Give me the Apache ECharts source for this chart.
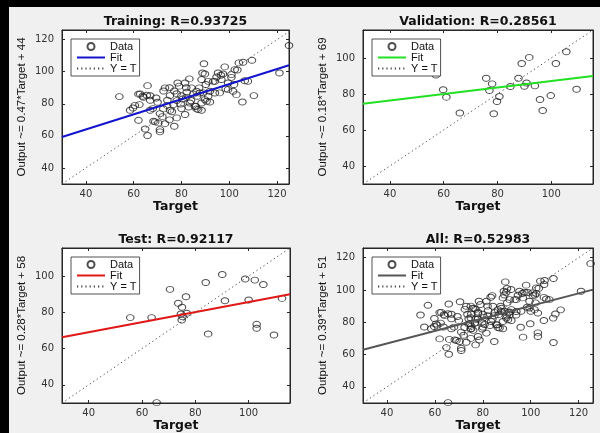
<!DOCTYPE html>
<html>
<head>
<meta charset="utf-8">
<script src="https://cdn.jsdelivr.net/npm/echarts@6/dist/echarts.min.js"></script>
<style>
html,body{margin:0;padding:0;background:#f0f0f0;}
#c{width:600px;height:433px;}
</style>
</head>
<body>
<div id="c"></div>
<script>
// ---------------- data ----------------
const trainingData = [
  [54,84.5],[58.5,76],[60.5,79],[62,86],[63.8,84.7],[65.8,91.3],[66.9,85],[66.9,82.2],[62,69.7],[64.8,64.3],
  [65.8,60.2],[66.9,76],[69.4,83.6],[71,73.9],[68.3,69.1],[69,68.7],[70.3,68.1],[71,63.9],[73.1,89.9],[72.4,76.8],
  [74.1,82.2],[73.1,67.6],[75.2,85.1],[75.2,76],[76.6,79.5],[78,86.3],[78,71.2],[79.7,79.9],[78.4,93],[80.5,83],
  [81.5,93],[81.5,73.3],[82.2,87.2],[83.3,95.5],[83.5,80.5],[84.2,89.9],[86,78.4],[86.3,76.8],[87.4,89.9],[86.6,84.7],
  [88.4,76],[88.8,99.2],[89.4,105],[89.1,86.8],[90.5,81.6],[91.2,94],[90.2,92],[91.9,87.8],[94,94],[94.7,96.7],
  [95.3,99.2],[96.7,95.1],[98.1,103],[96,86.8],[98.5,89.3],[100.9,98.2],[102.3,101.3],[101.6,87.8],[103,85.7],[104,105.5],
  [105.8,105.9],[105.5,81.1],[107.8,94],[109.5,107.1],[110.3,85.1],[121,99.2],[125,116.3],
  [97.4,98.6],[103.4,101.1],[96.5,97.8],[89.8,98.6],[88.4,95.1],[93.3,94],[100.9,96.5],[106.5,94.4],[99.5,93],
  [102,92],[86.3,87.8],[87.7,86.7],[94,86.7],[91.2,84.7],[89.8,82.6],[91.9,81.1],[88.4,80.5],[99.5,88.8],[85.6,78.5],
  [87,76.4],[62.7,86.1],[64.1,84.1],[65.5,85.3],[59.7,77.4],[62.4,79.5],[72.5,88],[75,90],[77,88],[79,91],
  [80,85],[82,84],[78,82],[74,79],[76,75],[72,72],[75,70],[80,77],[83,78],[84,82],
  [85,86],[82,90],[70,81],[68,77],[77,66],[71,62.5]
];
const validationData = [
  [57.1,90.5],[59.8,82.3],[61,78.2],[66,69.4],[75.8,88.7],[78,85.6],[77,81.9],[78.6,69],[80.7,78.6],[79.8,75.8],
  [84.8,84.1],[87.8,88.7],[89,96.9],[91.8,100.3],[90,84.3],[90.8,86.1],[93.9,84.5],[95.8,76.9],[96.8,70.8],[99.8,79.1],
  [101.7,96.9],[105.6,103.4],[109.4,82.6]
];
const testData = [
  [55.6,77.1],[63.6,77.1],[70.5,92.7],[73.6,85],[75,82.8],[76.5,88.6],[74.6,79.1],[75.2,77.6],[74.9,75.8],[76.8,79.5],
  [83.9,96.5],[84.8,68.1],[90.1,100.9],[91.1,86.4],[98.7,98.4],[100,86.8],[102.3,97.8],[105.5,95.4],[103,73.4],[103,71.2],
  [109.5,67.5],[112.5,87.7],[65.5,30.2]
];
const allData = trainingData.concat(validationData, testData);

// fitted lines (end points)
const trainingFit = [[30,59.3],[125,104]];
const validationFit = [[30,74.5],[115.5,90]];
const testFit = [[30,66.3],[115.5,90]];
const allFit = [[30,63],[126,100.2]];

// Y = T reference lines
const trainingIdentity = [[30,30],[126,126]];
const validationIdentity = [[30,30],[115.5,115.5]];
const testIdentity = [[30,30],[115.5,115.5]];
const allIdentity = [[30,30],[126,126]];

// axis limits [xmin, xmax, ymin, ymax]
const trainingLimits = [30,125,30,126];
const validationLimits = [30,115.5,30,115.5];
const testLimits = [30,115.5,30,115.5];
const allLimits = [30,126,30,126];

const panelTitles = ['Training: R=0.93725','Validation: R=0.28561','Test: R=0.92117','All: R=0.52983'];
const yAxisNames = ['Output ~= 0.47*Target + 44','Output ~= 0.18*Target + 69','Output ~= 0.28*Target + 58','Output ~= 0.39*Target + 51'];
const xAxisName = 'Target';
const legendNames = ['Data','Fit','Y = T'];

// ---------------- layout / style ----------------
const panels = [
  {data: trainingData, fit: trainingFit, ident: trainingIdentity, lim: trainingLimits, color: '#1414cc'},
  {data: validationData, fit: validationFit, ident: validationIdentity, lim: validationLimits, color: '#22e022'},
  {data: testData, fit: testFit, ident: testIdentity, lim: testLimits, color: '#e01818'},
  {data: allData, fit: allFit, ident: allIdentity, lim: allLimits, color: '#555555'}
];
const grids = [
  {left: 62, top: 30, width: 227, height: 154},
  {left: 363, top: 30, width: 230, height: 154},
  {left: 62, top: 248, width: 228, height: 155},
  {left: 363, top: 248, width: 230, height: 155}
];
const AX = '#262626';
const tickFont = {fontFamily: 'DejaVu Sans', fontSize: 10, color: '#333'};

const xAxes = [], yAxes = [], series = [], titles = [], legends = [];
panels.forEach((p, i) => {
  const g = grids[i];
  ['bottom','top'].forEach(pos => {
    xAxes.push({
      type: 'value', gridIndex: i, position: pos, min: p.lim[0], max: p.lim[1],
      splitLine: {show: false},
      axisLine: {show: true, onZero: false, lineStyle: {color: AX, width: 1}},
      axisTick: {show: true, inside: true, length: 3, lineStyle: {color: AX}},
      axisLabel: Object.assign({show: pos === 'bottom', margin: 5, showMinLabel: false, showMaxLabel: false}, tickFont),
      name: pos === 'bottom' ? xAxisName : '', nameLocation: 'middle', nameGap: 15,
      nameTextStyle: {fontFamily: 'DejaVu Sans', fontWeight: 'bold', fontSize: 12.5, color: '#111'}
    });
  });
  ['left','right'].forEach(pos => {
    yAxes.push({
      type: 'value', gridIndex: i, position: pos, min: p.lim[2], max: p.lim[3],
      splitLine: {show: false},
      axisLine: {show: true, onZero: false, lineStyle: {color: AX, width: 1}},
      axisTick: {show: true, inside: true, length: 3, lineStyle: {color: AX}},
      axisLabel: Object.assign({show: pos === 'left', margin: 8, showMinLabel: false, showMaxLabel: false}, tickFont),
      name: pos === 'left' ? yAxisNames[i] : '', nameLocation: 'middle', nameGap: 34, nameRotate: 90,
      nameTextStyle: {fontFamily: 'Liberation Sans', fontSize: 11.5, color: '#111'}
    });
  });
  series.push({
    name: legendNames[2] + '#' + i, type: 'line', xAxisIndex: i*2, yAxisIndex: i*2,
    data: p.ident, symbol: 'none', showSymbol: false, z: 1, silent: true,
    lineStyle: {color: '#444', width: 1, type: [1.2, 3]}
  });
  series.push({
    name: legendNames[0] + '#' + i, type: 'scatter', xAxisIndex: i*2, yAxisIndex: i*2,
    data: p.data, symbol: 'circle', symbolSize: [7.5, 6], clip: false, z: 2,
    itemStyle: {color: 'rgba(255,255,255,0)', borderColor: '#222', borderWidth: 1}
  });
  series.push({
    name: legendNames[1] + '#' + i, type: 'line', xAxisIndex: i*2, yAxisIndex: i*2,
    data: p.fit, symbol: 'none', showSymbol: false, z: 3,
    lineStyle: {color: p.color, width: 2}
  });
  titles.push({
    text: panelTitles[i], left: g.left + g.width/2, top: g.top - 15, textAlign: 'center', padding: 0,
    textStyle: {fontFamily: 'DejaVu Sans', fontWeight: 'bold', fontSize: 12.5, color: '#111'}
  });
  legends.push({
    data: [
      {name: legendNames[0] + '#' + i},
      {name: legendNames[1] + '#' + i, itemStyle: {opacity: 0}},
      {name: legendNames[2] + '#' + i, itemStyle: {opacity: 0}}
    ],
    orient: 'vertical',
    left: g.left + 9, top: g.top + 9, itemWidth: 28, itemHeight: 7, itemGap: 0,
    padding: [2, 3, 2, 5], backgroundColor: '#fff', borderColor: AX, borderWidth: 0.8, borderRadius: 0,
    selectedMode: false, formatter: n => n.split('#')[0],
    textStyle: {fontFamily: 'Liberation Sans', fontSize: 11, color: '#111', lineHeight: 10}
  });
});

const chart = echarts.init(document.getElementById('c'), null, {renderer: 'canvas'});
chart.setOption({
  animation: false,
  backgroundColor: '#f0f0f0',
  grid: grids.map(g => Object.assign({show: true, backgroundColor: '#fff', borderColor: AX, borderWidth: 1, containLabel: false}, g)),
  xAxis: xAxes,
  yAxis: yAxes,
  title: titles,
  legend: legends,
  series: series,
  graphic: [
    {type: 'rect', left: 0, top: 0, shape: {width: 9, height: 433}, style: {fill: '#000'}, silent: true},
    {type: 'rect', left: 0, top: 0, shape: {width: 600, height: 7}, style: {fill: '#000'}, silent: true}
  ]
});
</script>
</body>
</html>
